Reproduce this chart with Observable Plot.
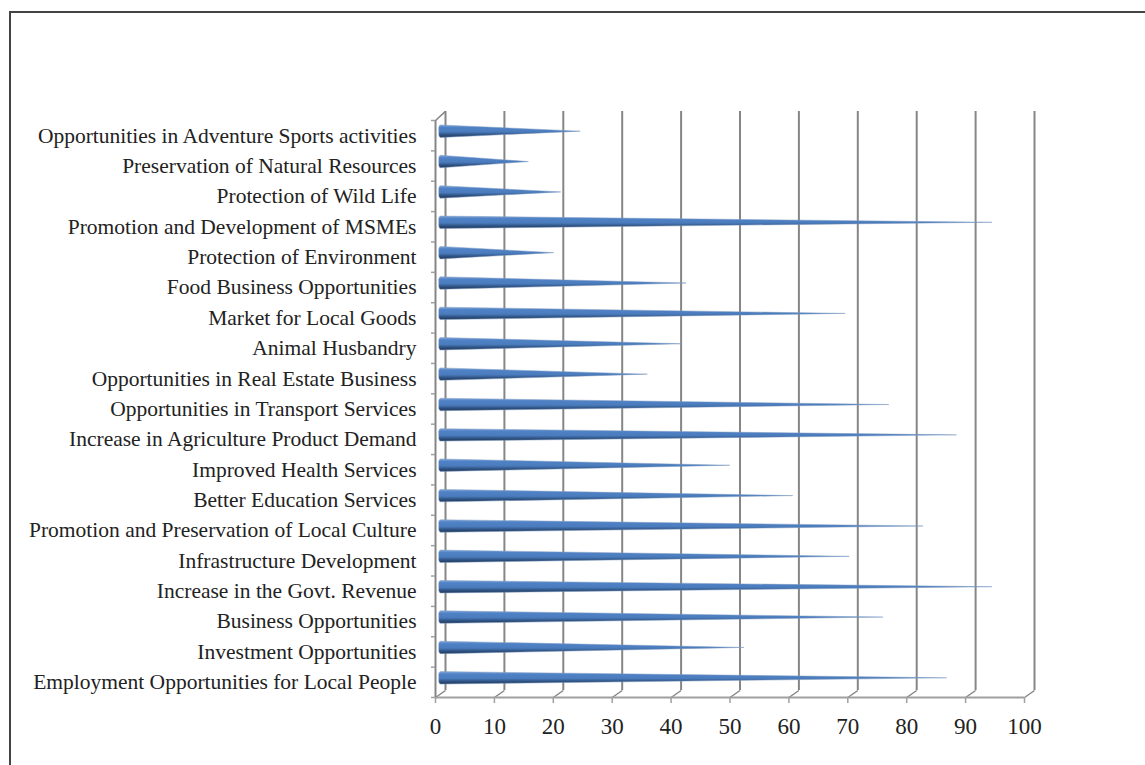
<!DOCTYPE html>
<html>
<head>
<meta charset="utf-8">
<script src="https://cdn.jsdelivr.net/npm/d3@7"></script>
<script src="https://cdn.jsdelivr.net/npm/@observablehq/plot@0.6"></script>
<style>
html,body{margin:0;padding:0;background:#fff;overflow:hidden}
#chart{position:relative;width:1145px;height:765px}
#edge{position:absolute;left:9px;top:11px;right:-4px;bottom:-4px;border:2px solid #444;box-sizing:border-box}
#chart svg{position:absolute;left:0;top:0;background:transparent}
</style>
</head>
<body>
<div id="chart"><div id="edge"></div></div>
<script>
const categories = [
  "Employment Opportunities for Local People",
  "Investment Opportunities",
  "Business Opportunities",
  "Increase in the Govt. Revenue",
  "Infrastructure Development",
  "Promotion and Preservation of Local Culture",
  "Better Education Services",
  "Improved Health Services",
  "Increase in Agriculture Product Demand",
  "Opportunities in Transport Services",
  "Opportunities in Real Estate Business",
  "Animal Husbandry",
  "Market for Local Goods",
  "Food Business Opportunities",
  "Protection of Environment",
  "Promotion and Development of MSMEs",
  "Protection of Wild Life",
  "Preservation of Natural Resources",
  "Opportunities in Adventure Sports activities"
];
const values = [86, 51.6, 75.2, 93.7, 69.5, 82, 59.9, 49.2, 87.7, 76.2, 35.2, 41.1, 68.8, 41.8, 19.3, 93.7, 20.5, 15, 23.8];
const xTicks = [0, 10, 20, 30, 40, 50, 60, 70, 80, 90, 100];

const pxX = 5.89;           // px per unit on x
const pxY = 30.37;          // px per category
const depthX = 10 / pxX;    // 3-D depth of the walls, in x units
const depthY = 7 / pxY;     // in y units
const yBottom = -0.5, yTop = 18.5;
const half = 0.205;         // half thickness of a cone base, in categories

// each cone is an area from its rounded base to its tip at the value
const cones = categories.flatMap((c, i) => [
  {c, x: -0.2,  y1: i - half * 0.6,  y2: i + half * 0.6},
  {c, x: -0.1,  y1: i - half * 0.9,  y2: i + half * 0.9},
  {c, x: 0.1,   y1: i - half,        y2: i + half},
  {c, x: values[i], y1: i, y2: i}
]);

const defs = () => {
  const ns = "http://www.w3.org/2000/svg";
  const d = document.createElementNS(ns, "defs");
  d.innerHTML = `<linearGradient id="cone" x1="0" y1="0" x2="0" y2="1">
    <stop offset="0" stop-color="#7fa6d8"/>
    <stop offset="0.2" stop-color="#4f81c6"/>
    <stop offset="0.55" stop-color="#4a7cbd"/>
    <stop offset="0.8" stop-color="#2d507f"/>
    <stop offset="1" stop-color="#1f3a5f"/>
  </linearGradient>`;
  return d;
};

const grey = "#868686";
const plot = Plot.plot({
  width: 1145,
  height: 765,
  marginLeft: 435,
  marginRight: 121,
  marginTop: 120,
  marginBottom: 68,
  style: {fontFamily: "'Liberation Serif', serif", background: "transparent", overflow: "visible"},
  x: {type: "linear", domain: [0, 100]},
  y: {type: "linear", domain: [yBottom, yTop]},
  marks: [
    defs,
    // back wall grid lines
    Plot.ruleX(xTicks, {y1: yBottom + depthY, y2: yTop + 0.3, dx: 10, stroke: grey, strokeWidth: 2}),
    // floor depth connectors
    Plot.link(xTicks, {x1: d => d, y1: yBottom, x2: d => d + depthX, y2: yBottom + depthY, stroke: grey, strokeWidth: 1.5}),
    // top-left wall connector
    Plot.link([0], {x1: d => d, y1: yTop, x2: d => d + depthX, y2: yTop + 0.3, stroke: grey, strokeWidth: 1.5}),
    // front axis lines
    Plot.ruleY([yBottom], {x1: 0, x2: 100, stroke: "#a0a0a0", strokeWidth: 2}),
    Plot.ruleX([0], {y1: yBottom, y2: yTop, stroke: grey, strokeWidth: 2}),
    // category boundary ticks
    Plot.axisY({
      anchor: "left",
      ticks: d3.range(yBottom, yTop + 1),
      tickFormat: () => "",
      tickSize: 4,
      stroke: "#a0a0a0",
      strokeWidth: 1.5,
      label: null
    }),
    // cones
    Plot.area(cones, {x1: "x", y1: "y1", x2: "x", y2: "y2", z: "c", fill: "url(#cone)", stroke: "#7f9ac0", strokeWidth: 0.5, dx: 5, dy: -4}),
    // labels
    Plot.axisY({
      anchor: "left",
      ticks: categories.map((_, i) => i),
      tickFormat: i => categories[i],
      tickSize: 0,
      tickPadding: 19,
      fontSize: 21.5,
      fill: "#222",
      label: null
    }),
    Plot.axisX({
      anchor: "bottom",
      ticks: xTicks,
      tickFormat: d => d,
      tickSize: 6,
      tickPadding: 14,
      fontSize: 23,
      fill: "#222",
      stroke: "#a0a0a0",
      strokeWidth: 1.5,
      label: null
    })
  ]
});
document.getElementById("chart").appendChild(plot);
</script>
</body>
</html>
